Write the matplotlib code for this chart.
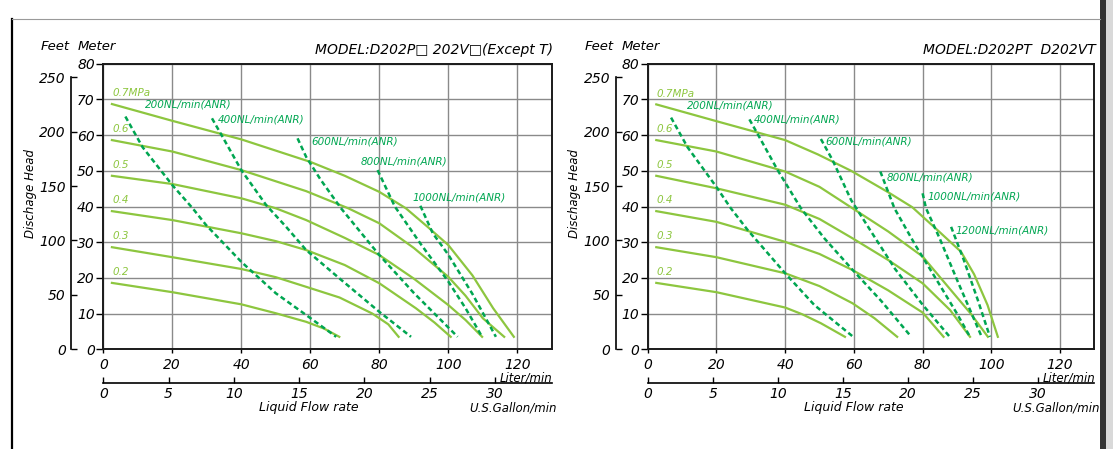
import matplotlib
matplotlib.use("Agg")
import matplotlib.pyplot as plt
from matplotlib.lines import Line2D
from matplotlib.patches import Rectangle

# pressure labels (solid curves, top to bottom)
pressures = ["0.7MPa", "0.6", "0.5", "0.4", "0.3", "0.2"]

# ---- left chart: D202P / D202V (except T)  (x = liter/min, y = meter)
L_P07 = [(2.5, 68.7), (20, 64.0), (40, 58.8), (60, 52.5), (70, 48.6), (80, 44.1), (87.7, 39.5),
         (94, 34.3), (100, 29.2), (107, 20.7), (113, 11.5), (119, 3.5)]
L_P06 = [(2.5, 58.6), (20, 55.4), (40, 50.2), (58.8, 44.3), (71, 39.5), (80, 35.3), (90, 28.4),
         (100, 20.3), (105, 15.0), (110, 8.7), (116.2, 3.5)]
L_P05 = [(2.5, 48.6), (20, 46.3), (40, 42.3), (50, 39.5), (58.8, 36.2), (70, 31.2), (80, 26.4),
         (90, 19.8), (100, 12.4), (105, 8.2), (109.8, 3.5)]
L_P04 = [(2.5, 38.7), (20, 36.2), (40, 32.5), (50, 30.3), (58.8, 27.8), (70, 23.6), (80, 18.5),
         (90.6, 11.5), (96, 7.5), (100.7, 3.5)]
L_P03 = [(2.5, 28.6), (20, 25.8), (40, 22.5), (50, 20.2), (58.8, 17.5), (68.5, 14.5), (78, 10.0),
         (82.6, 7.0), (85.6, 3.5)]
L_P02 = [(2.5, 18.6), (20, 16.0), (40, 12.6), (50, 10.1), (58.8, 7.7), (64, 5.8), (68.4, 3.5)]

L_A200 = [(6.4, 65.2), (11.4, 56.6), (20, 46.0), (25.9, 39.5), (29.8, 34.8), (40, 24.5), (50, 15.7),
          (58.8, 9.6), (67.5, 3.5)]
L_A400 = [(31.5, 64.7), (34.1, 60.3), (40, 50.2), (47.2, 40.4), (53, 34.3), (58.8, 27.8), (68.4, 19.9),
          (80, 10.5), (89.2, 3.5)]
L_A600 = [(56.3, 59.1), (58.8, 53.9), (63, 47.5), (68.9, 39.5), (80, 26.4), (90, 15.8), (102.7, 3.5)]
L_A800 = [(79.5, 50.2), (84.5, 40.0), (92, 29.5), (100, 19.0), (105, 11.5), (109.8, 3.5)]
L_A1000 = [(91.9, 40.2), (95.5, 32.5), (100, 26.5), (107, 15.5), (113.8, 3.5)]
L_AIR_NAMES = ["200NL/min(ANR)", "400NL/min(ANR)", "600NL/min(ANR)", "800NL/min(ANR)", "1000NL/min(ANR)"]

# ---- right chart: D202PT / D202VT
R_P07 = [(2.5, 68.6), (20, 63.9), (40, 58.6), (49.5, 54.6), (59.2, 50.0), (69.8, 44.1), (77, 39.8),
         (85, 32.8), (91.2, 27.3), (95, 21.0), (98.9, 12.4), (101.9, 3.5)]
R_P06 = [(2.5, 58.6), (20, 55.4), (40, 49.8), (50, 45.5), (59.6, 39.5), (70, 33.0), (80, 26.0),
         (88.3, 16.5), (94, 10.0), (99, 3.5)]
R_P05 = [(2.5, 48.6), (20, 45.1), (40, 40.5), (50, 36.5), (59.6, 31.1), (70, 25.0), (80, 18.5),
         (88, 11.0), (93.8, 3.5)]
R_P04 = [(2.5, 38.7), (20, 35.7), (40, 30.1), (50, 26.7), (59.6, 22.2), (70, 16.5), (80, 10.3), (86.1, 3.5)]
R_P03 = [(2.5, 28.6), (20, 25.8), (40, 21.3), (50, 17.7), (59.6, 12.9), (66, 8.7), (72.6, 3.5)]
R_P02 = [(2.5, 18.6), (20, 16.0), (40, 11.7), (45, 9.8), (50.4, 7.3), (57.4, 3.5)]

R_A200 = [(6.8, 64.9), (11.6, 56.6), (19.9, 45.6), (24.2, 39.5), (29.1, 33.4), (40, 21.3), (48.5, 12.4),
          (59.8, 3.5)]
R_A400 = [(29.6, 64.4), (32, 60.3), (37.8, 50.2), (44.6, 39.5), (51.4, 31.1), (59.2, 22.7), (68, 13.5),
          (76.7, 3.5)]
R_A600 = [(50.4, 58.9), (53.8, 53.0), (59.2, 41.8), (65, 33.0), (72, 22.5), (80, 12.5), (87.9, 3.5)]
R_A800 = [(67.7, 49.8), (71.8, 39.5), (78, 29.0), (85, 18.0), (90, 10.0), (93.8, 3.5)]
R_A1000 = [(80, 43.7), (81, 39.5), (85, 31.0), (90, 19.5), (97.2, 3.5)]
R_A1200 = [(88.3, 34.3), (92, 25.0), (96, 14.0), (99.6, 3.5)]
R_AIR_NAMES = L_AIR_NAMES + ["1200NL/min(ANR)"]

SOLID = "#8dc63f"
DASH = "#00a651"
W, H = 1113, 449
M2FT = 3.28084
L2GAL = 3.785

plt.rcParams["font.family"] = "DejaVu Sans"
plt.rcParams["font.style"] = "italic"

fig = plt.figure(figsize=(W / 100, H / 100), dpi=100)


def fx(px):
    return px / W


def fy(py):
    return 1 - py / H


def draw_panel(left, right, title, solids, dashes, air_names, air_pos):
    top, bottom = 63.7, 349.3
    ax = fig.add_axes([fx(left), fy(bottom), (right - left) / W, (bottom - top) / H])
    ax.set_xlim(0, 130)
    ax.set_ylim(0, 80)
    ax.set_xticks(range(0, 121, 20))
    ax.set_yticks(range(0, 81, 10))
    ax.grid(True, color="#8a8a8a", lw=1.0)
    ax.set_axisbelow(True)
    for s in ax.spines.values():
        s.set_color("#1a1a1a")
        s.set_linewidth(1.4)
    ax.tick_params(axis="y", direction="out", length=5, width=1, pad=1, labelsize=10)
    ax.tick_params(axis="x", direction="out", length=3, width=1, pad=3, labelsize=10)

    for pts, name in zip(solids, pressures):
        xs, ys = zip(*pts)
        ax.plot(xs, ys, color=SOLID, lw=1.6)
        ax.text(2.7, ys[0] + 3.0, name, color=SOLID, fontsize=7.5, ha="left", va="center")
    for pts in dashes:
        xs, ys = zip(*pts)
        ax.plot(xs, ys, color=DASH, lw=1.8, ls=(0, (2.0, 1.3)))
    for name, (tx, ty) in zip(air_names, air_pos):
        ax.text(tx, ty, name, color=DASH, fontsize=7.5, ha="left", va="center")

    # feet scale on the left
    ft = ax.twinx()
    ft.set_ylim(0, 80 * M2FT)
    ft.yaxis.tick_left()
    for k in ["right", "top", "bottom"]:
        ft.spines[k].set_visible(False)
    ft.spines["left"].set_position(("outward", 23))
    ft.spines["left"].set_bounds(0, 250)
    ft.spines["left"].set_linewidth(1.2)
    ft.set_yticks(range(0, 251, 50))
    ft.tick_params(axis="y", direction="in", length=4, width=1, pad=4, labelsize=10)

    # US gallon scale below
    gal = ax.secondary_xaxis(-34 / (bottom - top), functions=(lambda l: l / L2GAL, lambda g: g * L2GAL))
    gal.set_xticks(range(0, 31, 5))
    gal.tick_params(direction="in", length=4, width=1, pad=3, labelsize=10)
    gal.spines["bottom"].set_linewidth(1.2)

    fig.text(fx(left - 63), fy(47), "Feet", fontsize=9.5, ha="left", va="center")
    fig.text(fx(left - 26), fy(47), "Meter", fontsize=9.5, ha="left", va="center")
    fig.text(fx(right + 1), fy(50), title, fontsize=10, ha="right", va="center")
    fig.text(fx(left - 73), fy(194), "Dischage Head", fontsize=8.5, rotation=90, ha="center", va="center")
    fig.text(fx(right + 1), fy(378), "Liter/min", fontsize=8.5, ha="right", va="center")
    fig.text(fx(left + 206), fy(407), "Liquid Flow rate", fontsize=9, ha="center", va="center")
    fig.text(fx(right + 5), fy(408), "U.S.Gallon/min", fontsize=8.5, ha="right", va="center")
    return ax


draw_panel(103.3, 551.8, "MODEL:D202P\u25a1 202V\u25a1(Except T)",
           [L_P07, L_P06, L_P05, L_P04, L_P03, L_P02],
           [L_A200, L_A400, L_A600, L_A800, L_A1000],
           L_AIR_NAMES,
           [(12.2, 68.6), (33.2, 64.5), (60.2, 58.2), (74.7, 52.5), (89.7, 42.5)])

draw_panel(647.7, 1094.4, "MODEL:D202PT  D202VT",
           [R_P07, R_P06, R_P05, R_P04, R_P03, R_P02],
           [R_A200, R_A400, R_A600, R_A800, R_A1000, R_A1200],
           R_AIR_NAMES,
           [(11.4, 68.2), (31.0, 64.4), (51.7, 58.3), (69.5, 48.1), (81.3, 42.9), (89.5, 33.2)])

# page frame
fig.add_artist(Line2D([fx(12), fx(12)], [0, fy(19)], color="black", lw=1.6))
fig.add_artist(Line2D([fx(12), fx(1100)], [fy(19), fy(19)], color="#9a9a9a", lw=0.8))
fig.add_artist(Rectangle((fx(1100), 0), fx(6), 1, color="#333333", lw=0))
fig.add_artist(Rectangle((fx(1106), 0), fx(7), 1, color="#d9d9d9", lw=0))

fig.savefig("out.png", dpi=100)
